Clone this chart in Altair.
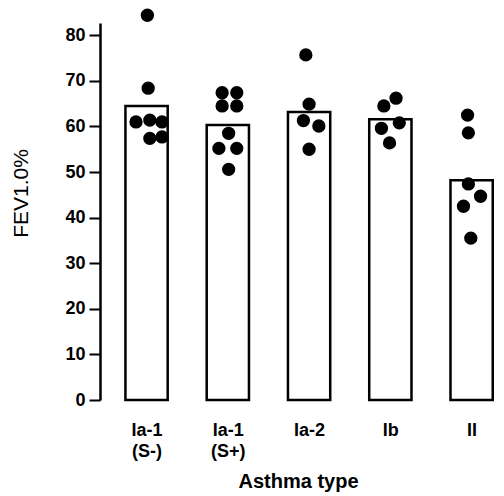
import json
import altair as alt
import pandas as pd

# ---- data ----
categories = [["Ia-1", "(S-)"], ["Ia-1", "(S+)"], ["Ia-2"], ["Ib"], ["II"]]
bar_means = [64.5, 60.3, 63.2, 61.6, 48.2]

dot_values = [
    [84.4, 68.4, 61.0, 61.4, 61.0, 57.4, 57.7],
    [67.4, 67.4, 64.5, 64.5, 58.5, 55.2, 55.2, 50.6],
    [75.7, 64.9, 61.3, 60.1, 55.0],
    [66.2, 64.5, 60.8, 59.6, 56.4],
    [62.5, 58.6, 47.4, 44.7, 42.5, 35.5],
]
# horizontal jitter of each dot, in units of one category step
dot_jitter = [
    [0.01, 0.02, -0.13, 0.04, 0.19, 0.04, 0.19],
    [-0.07, 0.11, -0.07, 0.11, 0.01, -0.11, 0.11, 0.01],
    [-0.04, 0.0, -0.07, 0.12, 0.0],
    [0.07, -0.08, 0.11, -0.11, -0.01],
    [-0.05, -0.04, -0.04, 0.11, -0.10, -0.01],
]

bars = pd.DataFrame({
    "idx": list(range(len(categories))),
    "mean": bar_means,
})
bars["lo"] = bars["idx"] - 0.26
bars["hi"] = bars["idx"] + 0.26

rows = []
for i, (vals, jit) in enumerate(zip(dot_values, dot_jitter)):
    for v, j in zip(vals, jit):
        rows.append({"pos": i + j, "fev": v})
dots = pd.DataFrame(rows)

FONT = "Liberation Sans"
label_expr = json.dumps(categories) + "[datum.value]"

xscale = alt.Scale(domain=[-0.573, 4.30], nice=False, zero=False)
yscale = alt.Scale(domain=[0, 82.7], nice=False)

xaxis = alt.Axis(
    values=[0, 1, 2, 3, 4],
    labelExpr=label_expr,
    domain=False, ticks=False, tickSize=0, grid=False,
    labelFont=FONT, labelFontSize=18, labelFontWeight="bold", labelColor="black",
    labelPadding=21, labelLineHeight=21, labelAngle=0,
    title="Asthma type", titleFont=FONT, titleFontSize=20, titleFontWeight="bold",
    titleColor="black", titlePadding=11,
)
yaxis = alt.Axis(
    values=[0, 10, 20, 30, 40, 50, 60, 70, 80],
    grid=False, domainColor="black", domainWidth=2.5,
    tickColor="black", tickWidth=2, tickSize=11,
    labelFont=FONT, labelFontSize=18, labelFontWeight="bold", labelColor="black",
    labelPadding=4,
    title="FEV1.0%", titleFont=FONT, titleFontSize=21, titleFontWeight="normal",
    titleColor="black", titleX=-79, titleY=170, titleBaseline="middle",
)

bar_layer = alt.Chart(bars).mark_bar(
    fill="white", stroke="black", strokeWidth=2.5
).encode(
    x=alt.X("lo:Q", scale=xscale, axis=xaxis),
    x2="hi:Q",
    y=alt.Y("mean:Q", scale=yscale, axis=yaxis),
    y2=alt.datum(0),
)

dot_layer = alt.Chart(dots).mark_circle(
    color="black", opacity=1, size=177
).encode(
    x=alt.X("pos:Q", scale=xscale),
    y=alt.Y("fev:Q", scale=yscale),
)

chart = alt.layer(bar_layer, dot_layer).properties(
    width=396, height=377,
    autosize=alt.AutoSizeParams(type="none"),
    padding={"left": 92, "top": 15, "right": 0, "bottom": 96},
    background="white",
).configure_view(strokeWidth=0)

chart.save("out.html", embed_options={"renderer": "svg", "actions": False})
